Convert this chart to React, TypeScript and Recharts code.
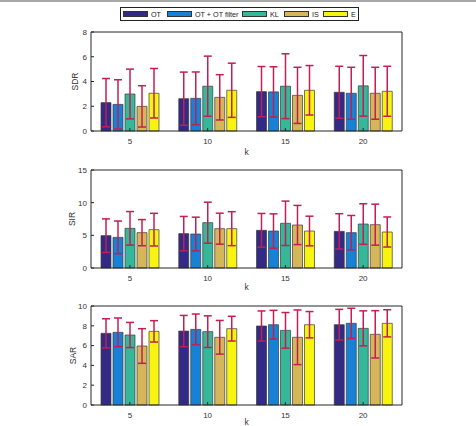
import { BarChart, Bar, XAxis, YAxis, ErrorBar } from "recharts";

const K_VALUES = ["5", "10", "15", "20"];
const SERIES = ["OT", "OT + OT filter", "KL", "IS", "E"];
const COLORS = ["#332a86", "#1781d5", "#36b79a", "#d5b658", "#f7f50f"];

// rows = series (same order as SERIES), columns = k
const SDR_MEAN = [
  [2.29, 2.61, 3.18, 3.13],
  [2.15, 2.64, 3.16, 3.05],
  [2.99, 3.62, 3.62, 3.65],
  [1.99, 2.72, 2.88, 3.05],
  [3.05, 3.29, 3.29, 3.21],
];
const SDR_ERR = [
  [1.95, 2.15, 2.03, 2.1],
  [1.99, 2.13, 2.03, 2.1],
  [2.01, 2.43, 2.62, 2.45],
  [1.67, 1.83, 2.27, 2.1],
  [2.0, 2.19, 2.0, 2.02],
];

const SIR_MEAN = [
  [4.95, 5.26, 5.77, 5.61],
  [4.69, 5.2, 5.66, 5.41],
  [6.07, 6.94, 6.84, 6.73],
  [5.41, 6.02, 6.58, 6.63],
  [5.87, 6.02, 5.66, 5.51],
];
const SIR_ERR = [
  [2.57, 2.63, 2.58, 2.7],
  [2.5, 2.58, 2.63, 2.63],
  [2.57, 3.14, 3.4, 3.1],
  [2.0, 2.37, 3.0, 3.14],
  [2.5, 2.6, 2.27, 2.3],
];

const SAR_MEAN = [
  [7.24, 7.47, 7.98, 8.11],
  [7.34, 7.64, 8.11, 8.25],
  [7.07, 7.41, 7.54, 7.74],
  [5.96, 6.84, 6.84, 7.14],
  [7.44, 7.71, 8.11, 8.25],
];
const SAR_ERR = [
  [1.47, 1.58, 1.52, 1.55],
  [1.45, 1.55, 1.45, 1.52],
  [1.27, 1.6, 1.8, 1.77],
  [1.75, 1.7, 2.76, 2.39],
  [1.08, 1.25, 1.33, 1.37],
];

const SDR_TICKS = [0, 2, 4, 6, 8];
const SIR_TICKS = [0, 5, 10, 15];
const SAR_TICKS = [0, 2, 4, 6, 8, 10];

// legend swatch offsets inside the legend box
const LEGEND_X = [3, 47, 122, 164, 203];

const FONT = "'Liberation Sans', Arial, sans-serif";
const AXIS = "#262626";
const ERR = "#c21f52";

function buildRows(means: number[][], errs: number[][]) {
  return K_VALUES.map((k, i) => {
    const row: Record<string, string | number> = { k };
    SERIES.forEach((_, s) => {
      row[`m${s}`] = means[s][i];
      row[`e${s}`] = errs[s][i];
    });
    return row;
  });
}

interface MetricChartProps {
  top: number;
  height: number;
  marginTop: number;
  marginLeft: number;
  kOffset: number;
  name: string;
  means: number[][];
  errs: number[][];
  ticks: number[];
}

function MetricChart({ top, height, marginTop, marginLeft, kOffset, name, means, errs, ticks }: MetricChartProps) {
  const data = buildRows(means, errs);
  const max = ticks[ticks.length - 1];
  const tickStyle = { fontSize: 8, fill: "#333", fontFamily: FONT };
  return (
    <div style={{ position: "absolute", left: 0, top }}>
      <BarChart
        width={476}
        height={height}
        data={data}
        margin={{ top: marginTop, right: 73, bottom: 0, left: marginLeft }}
        barCategoryGap={10}
        barGap={2}
      >
        <XAxis
          dataKey="k"
          height={29}
          stroke={AXIS}
          tickSize={-3}
          tickMargin={10}
          tick={tickStyle}
          label={{ value: "k", position: "insideBottom", offset: kOffset, fontSize: 8.5, fill: "#333", fontFamily: FONT }}
        />
        <XAxis xAxisId="t" dataKey="k" orientation="top" height={1} stroke={AXIS} tick={false} tickSize={-3} />
        <YAxis
          width={91 - marginLeft}
          domain={[0, max]}
          ticks={ticks}
          stroke={AXIS}
          tickSize={-3}
          tickMargin={7}
          tick={tickStyle}
          label={{ value: name, angle: -90, position: "center", fontSize: 8.5, fill: "#333", fontFamily: FONT }}
        />
        <YAxis
          yAxisId="r"
          orientation="right"
          width={1}
          domain={[0, max]}
          ticks={ticks}
          stroke={AXIS}
          tick={false}
          tickSize={-3}
        />
        {SERIES.map((s, i) => (
          <Bar
            key={s}
            dataKey={`m${i}`}
            name={s}
            fill={COLORS[i]}
            stroke="#3a3a3a"
            strokeWidth={0.7}
            isAnimationActive={false}
          >
            <ErrorBar dataKey={`e${i}`} width={4} stroke={ERR} strokeWidth={1.5} direction="y" isAnimationActive={false} />
          </Bar>
        ))}
      </BarChart>
    </div>
  );
}

function Legend() {
  return (
    <div
      style={{
        position: "absolute",
        left: 120,
        top: 7,
        width: 239,
        height: 14,
        boxSizing: "border-box",
        border: "1px solid #222",
        fontFamily: FONT,
        fontSize: 7.2,
        color: "#222",
        background: "#fff",
      }}
    >
      {SERIES.map((s, i) => (
        <div
          key={s}
          style={{
            position: "absolute",
            left: LEGEND_X[i] - 1,
            top: 0,
            height: 12,
            display: "flex",
            alignItems: "center",
            whiteSpace: "nowrap",
          }}
        >
          <div
            style={{
              width: 25,
              height: 6,
              boxSizing: "border-box",
              background: COLORS[i],
              border: "0.7px solid #333",
              marginRight: 3,
            }}
          />
          <span>{s}</span>
        </div>
      ))}
    </div>
  );
}

export default function App() {
  return (
    <div
      style={{
        position: "absolute",
        left: 0,
        top: 0,
        width: 476,
        height: 426,
        overflow: "hidden",
        background: "#fff",
      }}
    >
      <div style={{ position: "absolute", left: 0, top: 0, width: 476, height: 2, background: "#a8a8a8" }} />
      <MetricChart top={0} height={160} marginTop={31} marginLeft={59} kOffset={5} name="SDR" means={SDR_MEAN} errs={SDR_ERR} ticks={SDR_TICKS} />
      <MetricChart top={160} height={137} marginTop={9} marginLeft={53} kOffset={7} name="SIR" means={SIR_MEAN} errs={SIR_ERR} ticks={SIR_TICKS} />
      <MetricChart top={294} height={140} marginTop={11} marginLeft={55} kOffset={9} name="SAR" means={SAR_MEAN} errs={SAR_ERR} ticks={SAR_TICKS} />
      <Legend />
    </div>
  );
}
